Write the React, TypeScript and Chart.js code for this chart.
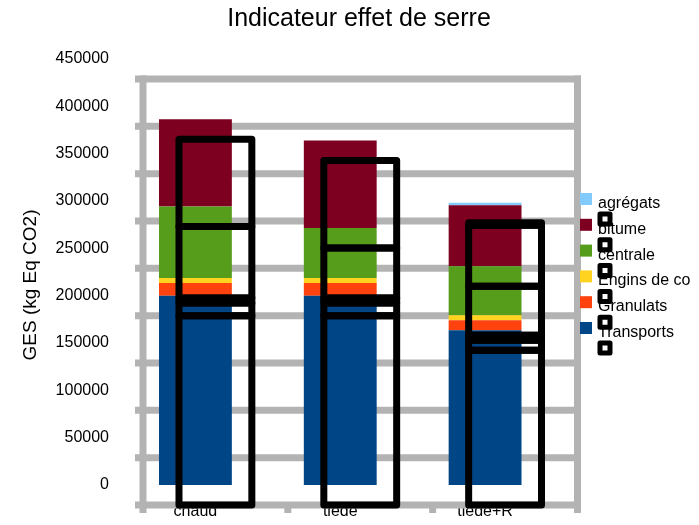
import React, { useEffect, useRef } from 'react';
import { Chart, registerables } from 'chart.js';

Chart.register(...registerables);

const chartTitle = 'Indicateur effet de serre';
const yAxisTitle = 'GES (kg Eq CO2)';
const categories = ['chaud', 'tiede', 'tiede+R'];

const seriesNames = ['Transports', 'Granulats', 'Engins de co', 'centrale', 'bitume', 'agrégats'];
const seriesColors = ['#004586', '#FF420E', '#FFD320', '#579D1C', '#7E0021', '#83CAFF'];

const transports = [200000, 200000, 163500];
const granulats = [13400, 13400, 10500];
const engins = [5300, 5300, 5300];
const centrale = [75600, 52700, 51700];
const bitume = [92000, 92500, 64400];
const agregats = [0, 0, 2800];

const yMin = 0;
const yMax = 450000;
const yStep = 50000;

const FONT = "'Liberation Sans', Arial, sans-serif";
const GRID_COLOR = '#b3b3b3';
const GRID_DX = 20;
const GRID_DY = 20;
const BOX_DX = 20;
const BOX_DY = 20;

const decorPlugin = {
  id: 'decor',
  beforeDatasetsDraw(chart: any) {
    const { ctx, chartArea, scales } = chart;
    const y = scales.y;
    const x = scales.x;
    ctx.save();
    ctx.strokeStyle = GRID_COLOR;
    ctx.lineWidth = 7;
    ctx.lineCap = 'butt';
    const left = chartArea.left + GRID_DX;
    const right = chartArea.right + GRID_DX;
    const ys = y.ticks.map((t: any) => y.getPixelForValue(t.value) + GRID_DY);
    const top = Math.min(...ys);
    const bottom = Math.max(...ys);
    const line = (x1: number, y1: number, x2: number, y2: number) => {
      ctx.beginPath();
      ctx.moveTo(x1, y1);
      ctx.lineTo(x2, y2);
      ctx.stroke();
    };
    ys.forEach((py: number) => line(left - 8, py, right + 3.5, py));
    const n = categories.length;
    for (let i = 0; i <= n; i++) {
      let bx: number;
      if (i === 0) bx = chartArea.left;
      else if (i === n) bx = chartArea.right;
      else bx = (x.getPixelForValue(i - 1) + x.getPixelForValue(i)) / 2;
      const gx = bx + GRID_DX;
      if (i === 0 || i === n) line(gx, top - 3.5, gx, bottom + 8);
      else line(gx, bottom, gx, bottom + 8);
    }
    ctx.restore();
  },
  afterDraw(chart: any) {
    const { ctx, chartArea } = chart;
    ctx.save();
    // y axis title
    ctx.fillStyle = '#000';
    ctx.font = `19px ${FONT}`;
    ctx.textAlign = 'center';
    ctx.textBaseline = 'middle';
    ctx.translate(31, 285);
    ctx.rotate(-Math.PI / 2);
    ctx.fillText(yAxisTitle, 0, 0);
    ctx.restore();

    // legend
    ctx.save();
    const lx = chartArea.right + 22.5;
    let top = 193;
    const step = 25.8;
    const ds = chart.data.datasets;
    ctx.font = `16px ${FONT}`;
    ctx.textAlign = 'left';
    ctx.textBaseline = 'alphabetic';
    const tops: number[] = [];
    for (let k = ds.length - 1; k >= 0; k--) {
      ctx.fillStyle = ds[k].backgroundColor;
      ctx.fillRect(lx, top, 12, 12);
      ctx.fillStyle = '#000';
      ctx.fillText(ds[k].label, lx + 18, top + 15);
      tops.push(top);
      top += step;
    }
    ctx.strokeStyle = '#000';
    ctx.lineJoin = 'round';
    ctx.lineWidth = 5;
    tops.forEach((t) => ctx.strokeRect(lx + 20, t + 21, 10, 10));

    // offset outlines of the bar segments
    ctx.lineWidth = 7;
    ds.forEach((_d: any, i: number) => {
      const meta = chart.getDatasetMeta(i);
      if (meta.hidden) return;
      meta.data.forEach((el: any) => {
        const p = el.getProps(['x', 'y', 'base', 'width'], true);
        const h = Math.abs(p.base - p.y);
        if (h < 0.5) return;
        const l = p.x - p.width / 2 + BOX_DX;
        const t = Math.min(p.y, p.base) + BOX_DY;
        ctx.strokeRect(l, t, p.width, h);
      });
    });
    ctx.restore();
  },
};

export default function App() {
  const canvasRef = useRef<HTMLCanvasElement | null>(null);

  useEffect(() => {
    const canvas = canvasRef.current;
    if (!canvas) return;
    const seriesData = [transports, granulats, engins, centrale, bitume, agregats];
    const chart = new Chart(canvas, {
      type: 'bar',
      data: {
        labels: categories,
        datasets: seriesData.map((d, i) => ({
          label: seriesNames[i],
          data: d,
          backgroundColor: seriesColors[i],
          borderWidth: 0,
          categoryPercentage: 1,
          barPercentage: 0.503,
        })),
      },
      options: {
        responsive: false,
        animation: false,
        devicePixelRatio: 1,
        layout: { padding: { left: 19, right: 0, top: 0, bottom: 0 } },
        plugins: {
          legend: { display: false },
          tooltip: { enabled: false },
          title: {
            display: true,
            text: chartTitle,
            color: '#000',
            font: { family: FONT, size: 25, weight: 'normal', lineHeight: 1.2 },
            padding: { top: 4.6, bottom: 24.4 },
          },
        },
        scales: {
          x: {
            stacked: true,
            grid: { display: false, drawTicks: false },
            border: { display: false },
            ticks: { color: '#000', font: { family: FONT, size: 16 }, padding: 17, maxRotation: 0 },
            afterFit: (s: any) => {
              s.height = 40;
            },
          },
          y: {
            stacked: true,
            min: yMin,
            max: yMax,
            grid: { display: false, drawTicks: false },
            border: { display: false },
            ticks: {
              stepSize: yStep,
              color: '#000',
              font: { family: FONT, size: 16 },
              padding: 14,
              callback: (v: any) => String(v),
            },
            afterFit: (s: any) => {
              s.width = 104;
            },
          },
          y2: {
            position: 'right',
            display: true,
            grid: { display: false, drawTicks: false },
            border: { display: false },
            ticks: { display: false },
            afterFit: (s: any) => {
              s.width = 141.5;
            },
          },
        },
      },
      plugins: [decorPlugin],
    } as any);
    return () => chart.destroy();
  }, []);

  return (
    <div style={{ position: 'absolute', left: 0, top: 0, width: 699, height: 525, background: '#fff' }}>
      <canvas ref={canvasRef} width={699} height={525} style={{ display: 'block', width: 699, height: 525 }} />
    </div>
  );
}
